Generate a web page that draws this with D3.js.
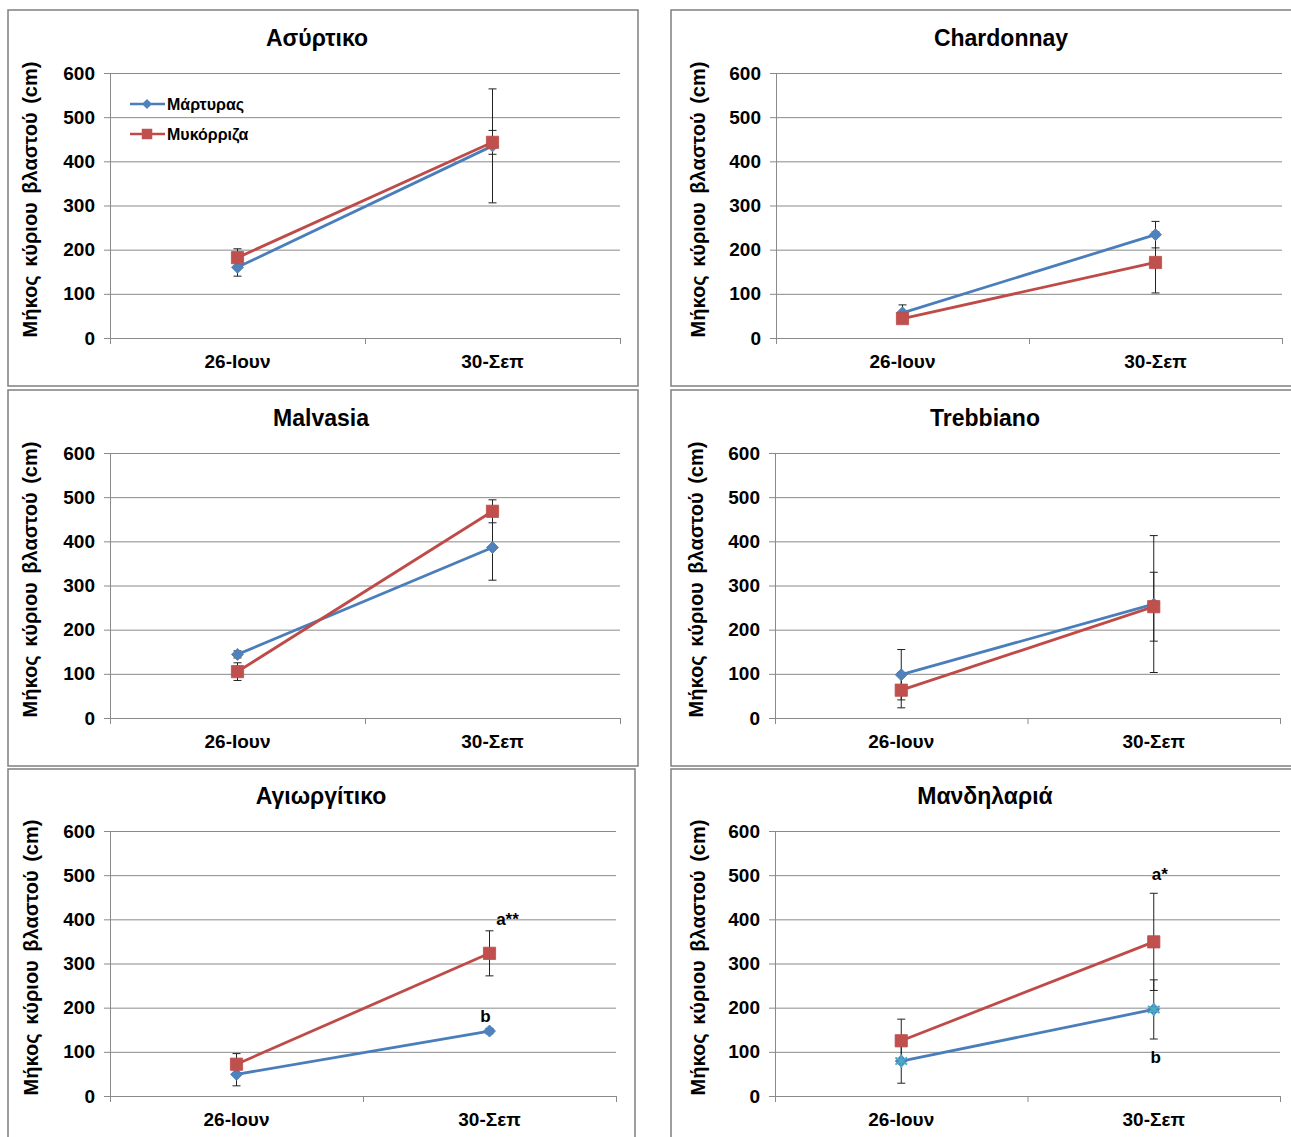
<!DOCTYPE html>
<html lang="el">
<head>
<meta charset="utf-8">
<title>Μήκος κύριου βλαστού</title>
<script src="https://cdn.jsdelivr.net/npm/d3@7"></script>
<style>
  body { margin: 0; background: #fff; }
  text { font-family: "Liberation Sans", Arial, sans-serif; font-weight: bold; fill: #000; }
</style>
</head>
<body>
<script>
// ---- data ----
const dates = ["26-Ιουν", "30-Σεπ"];
const seriesNames = ["Μάρτυρας", "Μυκόρριζα"];
const varieties = ["Ασύρτικο", "Chardonnay", "Malvasia", "Trebbiano", "Αγιωργίτικο", "Μανδηλαριά"];
const yTicks = [0, 100, 200, 300, 400, 500, 600];

// Μάρτυρας (control)
const controlMeans = [[160, 435], [57, 234], [144, 386], [98, 258], [49, 147], [79, 196]];
const controlErr   = [[20, 129], [18, 30], [8, 74], [57, 155], [26, 6], [50, 67]];
// Μυκόρριζα
const mycoMeans = [[182, 443], [44, 171], [105, 468], [63, 252], [72, 323], [125, 349]];
const mycoErr   = [[20, 27], [8, 69], [20, 26], [40, 78], [24, 51], [49, 110]];

// significance letters: panel index, date, value where the letter sits
const letters = [
  {panel: 4, date: "30-Σεπ", text: "a**", value: 388, dx: 18},
  {panel: 4, date: "30-Σεπ", text: "b", value: 168, dx: -4},
  {panel: 5, date: "30-Σεπ", text: "a*", value: 490, dx: 6},
  {panel: 5, date: "30-Σεπ", text: "b", value: 74, dx: 2}
];

// ---- layout ----
const W = 1291, H = 1137;
const panels = [
  {frame: [8, 10, 630, 376],  plot: [110, 73, 620, 338],   titleX: 317, yTitleX: 32},
  {frame: [671, 10, 630, 376], plot: [776, 73, 1282, 338], titleX: 1001, yTitleX: 700},
  {frame: [8, 390, 630, 376], plot: [110, 453, 620, 718],  titleX: 321, yTitleX: 32},
  {frame: [671, 390, 630, 376], plot: [775, 453, 1280, 718], titleX: 985, yTitleX: 698},
  {frame: [8, 769, 627, 380], plot: [110, 831, 616, 1096], titleX: 321, yTitleX: 33},
  {frame: [671, 769, 630, 380], plot: [775, 831, 1280, 1096], titleX: 985, yTitleX: 700}
];

const blueLine = "#4A7EBB", blueFill = "#4F81BD";
const redLine = "#BE4B48", redFill = "#C0504D";
const gridColor = "#8a8a8a";

const svg = d3.select("body").append("svg")
  .attr("width", W).attr("height", H);

panels.forEach((p, i) => {
  const [fx, fy, fw, fh] = p.frame;
  const [l, t, r, b] = p.plot;

  svg.append("rect")
    .attr("x", fx).attr("y", fy).attr("width", fw).attr("height", fh)
    .attr("fill", "#fff").attr("stroke", "#7f7f7f").attr("stroke-width", 1.5);

  const x = d3.scaleBand().domain(dates).range([l, r]);
  const y = d3.scaleLinear().domain([0, 600]).range([b, t]);
  const g = svg.append("g");

  // grid
  g.append("g")
    .attr("transform", `translate(${l},0)`)
    .call(d3.axisLeft(y).tickValues(yTicks).tickSize(-(r - l)).tickFormat(""))
    .call(s => s.select(".domain").remove())
    .call(s => s.selectAll("line").attr("stroke", gridColor).attr("stroke-width", 1));

  // y axis with labels
  g.append("g")
    .attr("transform", `translate(${l},0)`)
    .call(d3.axisLeft(y).tickValues(yTicks).tickSize(6).tickSizeOuter(0).tickPadding(9))
    .call(s => s.select(".domain").attr("stroke", gridColor))
    .call(s => s.selectAll("line").attr("stroke", gridColor))
    .call(s => s.selectAll("text").attr("font-size", 19).attr("font-family", "Liberation Sans, Arial, sans-serif").attr("font-weight", "bold").attr("fill", "#000"));

  // x axis boundary ticks
  const xb = d3.scaleLinear().domain([0, dates.length]).range([l, r]);
  g.append("g")
    .attr("transform", `translate(0,${b})`)
    .call(d3.axisBottom(xb).tickValues(d3.range(dates.length + 1)).tickSize(6).tickFormat(""))
    .call(s => s.selectAll("line,path").attr("stroke", gridColor));

  // x labels
  g.append("g")
    .attr("transform", `translate(0,${b})`)
    .call(d3.axisBottom(x).tickSize(0).tickPadding(17))
    .call(s => s.select(".domain").remove())
    .call(s => s.selectAll("text").attr("font-size", 19).attr("font-family", "Liberation Sans, Arial, sans-serif").attr("font-weight", "bold").attr("fill", "#000"));

  // titles
  svg.append("text").attr("x", p.titleX).attr("y", t - 27)
    .attr("text-anchor", "middle").attr("font-size", 23).text(varieties[i]);

  svg.append("text")
    .attr("transform", `translate(${p.yTitleX},${(t + b) / 2 - 6}) rotate(-90)`)
    .attr("text-anchor", "middle").attr("dominant-baseline", "middle")
    .attr("font-size", 20).attr("word-spacing", 3)
    .text("Μήκος κύριου βλαστού (cm)");

  const cx = d => x(d) + x.bandwidth() / 2;
  const sets = [
    {means: controlMeans[i], errs: controlErr[i], line: blueLine, fill: blueFill, shape: "diamond"},
    {means: mycoMeans[i], errs: mycoErr[i], line: redLine, fill: redFill, shape: "square"}
  ];

  // error bars
  sets.forEach(s => {
    dates.forEach((d, k) => {
      const e = s.errs[k], m = s.means[k];
      const eg = g.append("g").attr("stroke", "#222").attr("stroke-width", 1);
      eg.append("line").attr("x1", cx(d)).attr("x2", cx(d)).attr("y1", y(m - e)).attr("y2", y(m + e));
      [m - e, m + e].forEach(v => eg.append("line")
        .attr("x1", cx(d) - 4).attr("x2", cx(d) + 4).attr("y1", y(v)).attr("y2", y(v)));
    });
  });

  // lines & markers
  const lineGen = d3.line().x((v, k) => cx(dates[k])).y(v => y(v));
  sets.forEach(s => {
    g.append("path").datum(s.means).attr("d", lineGen)
      .attr("fill", "none").attr("stroke", s.line).attr("stroke-width", 2.8);
    s.means.forEach((v, k) => {
      g.append("path")
        .attr("transform", `translate(${cx(dates[k])},${y(v)})` + (s.shape === "diamond" ? " rotate(45)" : ""))
        .attr("d", d3.symbol().type(d3.symbolSquare).size(s.shape === "diamond" ? 72 : 150)())
        .attr("fill", s.fill).attr("stroke", s.line).attr("stroke-width", 0.8);
      if (i === 5 && s.shape === "diamond") {
        g.append("path")
          .attr("transform", `translate(${cx(dates[k])},${y(v)})`)
          .attr("d", d3.symbol().type(d3.symbolAsterisk).size(130)())
          .attr("fill", "none").attr("stroke", "#4BACC6").attr("stroke-width", 2);
      }
    });
  });

  // significance letters
  letters.filter(a => a.panel === i).forEach(a => {
    g.append("text").attr("x", cx(a.date) + a.dx).attr("y", y(a.value))
      .attr("text-anchor", "middle").attr("font-size", 17).text(a.text);
  });

  // legend in the first panel
  if (i === 0) {
    const lg = svg.append("g");
    seriesNames.forEach((name, k) => {
      const s = sets[k], ly = 104 + k * 30;
      lg.append("line").attr("x1", 130).attr("x2", 165).attr("y1", ly).attr("y2", ly)
        .attr("stroke", s.line).attr("stroke-width", 2.6);
      lg.append("path")
        .attr("transform", `translate(147,${ly})` + (s.shape === "diamond" ? " rotate(45)" : ""))
        .attr("d", d3.symbol().type(d3.symbolSquare).size(s.shape === "diamond" ? 50 : 110)())
        .attr("fill", s.fill);
      lg.append("text").attr("x", 167).attr("y", ly + 6).attr("font-size", 16).text(name);
    });
  }
});
</script>
</body>
</html>
